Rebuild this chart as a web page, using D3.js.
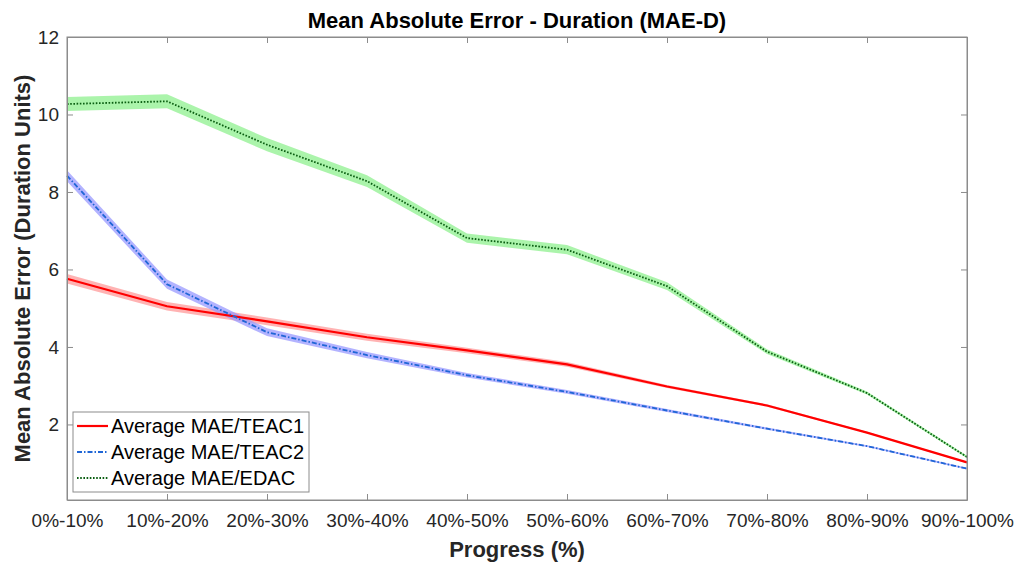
<!DOCTYPE html>
<html>
<head>
<meta charset="utf-8">
<script src="https://cdn.jsdelivr.net/npm/d3@7"></script>
<style>
    body { margin: 0; background: #fff; }
    svg { display: block; font-family: "Liberation Sans", Arial, sans-serif; }
</style>
</head>
<body>
<div id="main"></div>
<script>
// categories along the x axis
var categories = ['0%-10%', '10%-20%', '20%-30%', '30%-40%', '40%-50%',
    '50%-60%', '60%-70%', '70%-80%', '80%-90%', '90%-100%'];

// series values
var teac1 = [5.76, 5.05, 4.66, 4.25, 3.91, 3.55, 2.98, 2.49, 1.79, 1.02];
var teac2 = [8.42, 5.62, 4.38, 3.79, 3.27, 2.84, 2.36, 1.89, 1.44, 0.86];
var edac = [10.27, 10.34, 9.22, 8.28, 6.81, 6.51, 5.57, 3.88, 2.81, 1.16];

// half width of the shaded band round each line
var teac1Band = [0.12, 0.11, 0.10, 0.09, 0.07, 0.06, 0.04, 0.03, 0.02, 0.02];
var teac2Band = [0.14, 0.12, 0.10, 0.08, 0.06, 0.05, 0.04, 0.03, 0.02, 0.02];
var edacBand = [0.18, 0.18, 0.17, 0.15, 0.12, 0.12, 0.10, 0.06, 0.04, 0.03];

var yTicks = [2, 4, 6, 8, 10, 12];

var series = [
    { name: 'Average MAE/TEAC1', values: teac1, band: teac1Band, color: '#ff0000', fill: '#ff9a9a', dash: null, width: 2.2 },
    { name: 'Average MAE/TEAC2', values: teac2, band: teac2Band, color: '#1f66d6', fill: '#9a9aff', dash: '5,2,1.5,2', width: 1.8 },
    { name: 'Average MAE/EDAC', values: edac, band: edacBand, color: '#0b5e12', fill: '#8ff08f', dash: '1.6,1.6', width: 1.8 }
];

var W = 1021, H = 563;
var margin = { top: 37, right: 54, bottom: 63, left: 67 };
var width = W - margin.left - margin.right,
    height = H - margin.top - margin.bottom;

var svg = d3.select('#main').append('svg')
    .attr('width', W)
    .attr('height', H);

var g = svg.append('g')
    .attr('transform', 'translate(' + margin.left + ',' + margin.top + ')');

var xScale = d3.scalePoint().domain(categories).range([0, width]);
var yScale = d3.scaleLinear().domain([0.05, 12]).range([height, 0]);

var axisColor = '#8c8c8c';
var textColor = '#262626';

// box
g.append('rect')
    .attr('width', width).attr('height', height)
    .attr('fill', '#fff');

// bands
var area = d3.area()
    .x(function (d, i) { return xScale(categories[i]); })
    .y0(function (d) { return yScale(d[0] - d[1]); })
    .y1(function (d) { return yScale(d[0] + d[1]); });

series.forEach(function (s) {
    g.append('path')
        .datum(s.values.map(function (v, i) { return [v, s.band[i]]; }))
        .attr('d', area)
        .attr('fill', s.fill)
        .attr('fill-opacity', 0.75);
});

var line = d3.line()
    .x(function (d, i) { return xScale(categories[i]); })
    .y(function (d) { return yScale(d); });

series.forEach(function (s) {
    g.append('path')
        .datum(s.values)
        .attr('d', line)
        .attr('fill', 'none')
        .attr('stroke', s.color)
        .attr('stroke-width', s.width)
        .attr('stroke-dasharray', s.dash);
});

// axes, ticks inward and mirrored
var xAxis = d3.axisBottom(xScale).tickSizeInner(-6).tickSizeOuter(0).tickPadding(14);
var yAxis = d3.axisLeft(yScale).tickValues(yTicks).tickSizeInner(-6).tickSizeOuter(0).tickPadding(8);

var xAxisEl = g.append('g').attr('transform', 'translate(0,' + height + ')').call(xAxis);
var yAxisEl = g.append('g').call(yAxis);
g.append('g').call(d3.axisTop(xScale).tickSizeInner(-6).tickSizeOuter(0).tickFormat(''));
g.append('g').attr('transform', 'translate(' + width + ',0)')
    .call(d3.axisRight(yScale).tickValues(yTicks).tickSizeInner(-6).tickSizeOuter(0).tickFormat(''));

g.selectAll('.domain, .tick line').attr('stroke', axisColor);
g.selectAll('.tick text').attr('fill', textColor).style('font-size', '19px');
// first and last x ticks have no inner mark at the box edges
xAxisEl.selectAll('.tick line').filter(function (d, i) { return i === 0 || i === categories.length - 1; }).remove();

g.append('rect')
    .attr('width', width).attr('height', height)
    .attr('fill', 'none').attr('stroke', axisColor);

// title and axis labels
svg.append('text')
    .attr('x', margin.left + width / 2).attr('y', 28)
    .attr('text-anchor', 'middle')
    .style('font-size', '22px').style('font-weight', 'bold')
    .attr('fill', '#000')
    .text('Mean Absolute Error - Duration (MAE-D)');

svg.append('text')
    .attr('x', margin.left + width / 2).attr('y', 557)
    .attr('text-anchor', 'middle')
    .style('font-size', '22px').style('font-weight', 'bold')
    .attr('fill', textColor)
    .text('Progress (%)');

svg.append('text')
    .attr('transform', 'translate(30,' + (margin.top + height / 2) + ') rotate(-90)')
    .attr('text-anchor', 'middle')
    .style('font-size', '22px').style('font-weight', 'bold')
    .attr('fill', textColor)
    .text('Mean Absolute Error (Duration Units)');

// legend
var legend = svg.append('g').attr('transform', 'translate(73,412)');
legend.append('rect')
    .attr('width', 236).attr('height', 80)
    .attr('fill', '#fff').attr('stroke', axisColor);

series.forEach(function (s, i) {
    var y = 14 + i * 26;
    legend.append('line')
        .attr('x1', 4).attr('x2', 35).attr('y1', y).attr('y2', y)
        .attr('stroke', s.color).attr('stroke-width', s.width)
        .attr('stroke-dasharray', s.dash);
    legend.append('text')
        .attr('x', 38).attr('y', y + 7)
        .style('font-size', '20px')
        .attr('fill', '#000')
        .text(s.name);
});
</script>
</body>
</html>
